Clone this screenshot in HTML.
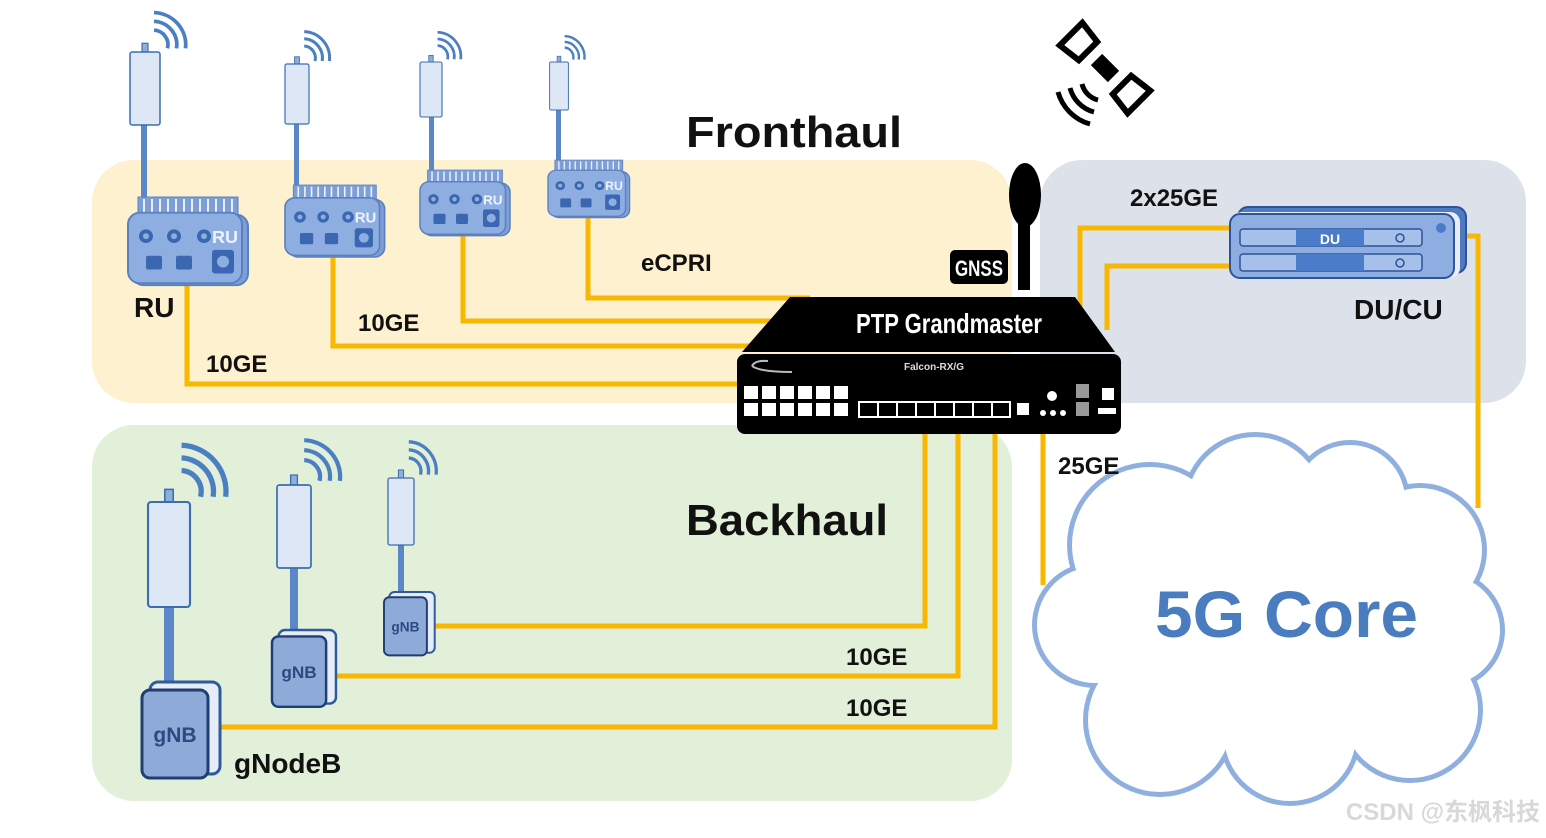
<!DOCTYPE html>
<html><head><meta charset="utf-8"><style>
html,body{margin:0;padding:0;background:#fff;}
svg{display:block;}
text{font-family:"Liberation Sans",sans-serif;font-weight:bold;}
</style></head><body>
<svg width="1546" height="838" viewBox="0 0 1546 838" xmlns="http://www.w3.org/2000/svg">
<defs>
  <g id="ant">
    <rect x="-4" y="-12" width="8" height="14" fill="#8eaedb" stroke="#3b6db0" stroke-width="1.5"/>
    <rect x="-20" y="0" width="40" height="100" rx="3" fill="#dde7f5" stroke="#3b6db0" stroke-width="2"/>
    <g fill="none" stroke="#4a7fc1" stroke-width="5">
      <path d="M12 -30 A20 20 0 0 1 30 -5"/>
      <path d="M12 -42 A32 32 0 0 1 42 -5"/>
      <path d="M12 -54 A44 44 0 0 1 54 -5"/>
    </g>
  </g>
  <g id="ru">
    <rect x="10" y="0" width="100" height="20" fill="#7d9fd6" stroke="#5a80c0" stroke-width="1"/>
    <g stroke="#eaf0fa" stroke-width="2">
      <path d="M16 2V18M24 2V18M32 2V18M40 2V18M48 2V18M56 2V18M64 2V18M72 2V18M80 2V18M88 2V18M96 2V18M104 2V18"/>
    </g>
    <rect x="4" y="18" width="116" height="72" rx="12" fill="#7d9fd6" stroke="#5a80c0" stroke-width="2"/>
    <rect x="0" y="16" width="114" height="72" rx="12" fill="#8eaee2" stroke="#5a80c0" stroke-width="2"/>
    <g fill="#3a67b0"><circle cx="18" cy="40" r="7"/><circle cx="46" cy="40" r="7"/><circle cx="76" cy="40" r="7"/>
    <rect x="18" y="60" width="16" height="14" rx="2"/><rect x="48" y="60" width="16" height="14" rx="2"/><rect x="84" y="54" width="22" height="24" rx="3"/></g>
    <g fill="#8eaee2"><circle cx="18" cy="40" r="3"/><circle cx="46" cy="40" r="3"/><circle cx="76" cy="40" r="3"/><circle cx="95" cy="66" r="6"/></g>
    <text x="84" y="47" font-size="18" fill="#eef3fb">RU</text>
  </g>
  <g id="gnb">
    <rect x="8" y="0" width="70" height="92" rx="8" fill="#e6edf8" stroke="#2f5a9c" stroke-width="3"/>
    <rect x="0" y="8" width="66" height="88" rx="8" fill="#8eaad8" stroke="#1f3f73" stroke-width="3"/>
    <text x="33" y="60" font-size="21" fill="#2a4a80" text-anchor="middle" font-weight="normal">gNB</text>
  </g>
</defs>

<rect x="92" y="160" width="920" height="243" rx="42" fill="#fef1cf"/>
<rect x="1040" y="160" width="486" height="243" rx="42" fill="#dde1ea"/>
<rect x="92" y="425" width="920" height="376" rx="42" fill="#e2efd9"/>

<g fill="none" stroke="#f8b700" stroke-width="5">
  <path d="M187 285V384H760"/>
  <path d="M333 255V346H770"/>
  <path d="M463 232V321H790"/>
  <path d="M588 215V298H810"/>
  <path d="M925 430V626H432"/>
  <path d="M958 430V676H335"/>
  <path d="M995 430V727H220"/>
  <path d="M1043 430V585"/>
  <path d="M1080 310V228H1235"/>
  <path d="M1107 330V266H1235"/>
  <path d="M1462 236H1478V508"/>
</g>

<rect x="141" y="120" width="6" height="80" fill="#5b86c8"/>
<use href="#ant" transform="translate(145,52) scale(0.75,0.73)"/>
<rect x="294" y="120" width="5" height="68" fill="#5b86c8"/>
<use href="#ant" transform="translate(297,64) scale(0.6,0.6)"/>
<rect x="429" y="115" width="5" height="58" fill="#5b86c8"/>
<use href="#ant" transform="translate(431,62) scale(0.55,0.55)"/>
<rect x="556" y="105" width="5" height="55" fill="#5b86c8"/>
<use href="#ant" transform="translate(559,62) scale(0.47,0.48)"/>

<use href="#ru" transform="translate(128,197) scale(1.0,0.98)"/>
<use href="#ru" transform="translate(285,185) scale(0.83,0.8)"/>
<use href="#ru" transform="translate(420,170) scale(0.75,0.73)"/>
<use href="#ru" transform="translate(548,160) scale(0.68,0.64)"/>

<rect x="164" y="600" width="10" height="90" fill="#5b86c8"/>
<use href="#ant" transform="translate(169,502) scale(1.05,1.05)"/>
<rect x="290" y="565" width="8" height="70" fill="#5b86c8"/>
<use href="#ant" transform="translate(294,485) scale(0.85,0.83)"/>
<rect x="398" y="540" width="6" height="55" fill="#5b86c8"/>
<use href="#ant" transform="translate(401,478) scale(0.65,0.67)"/>

<use href="#gnb" transform="translate(142,682) scale(1.0,1.0)"/>
<use href="#gnb" transform="translate(272,630) scale(0.82,0.8)"/>
<use href="#gnb" transform="translate(384,592) scale(0.65,0.66)"/>

<g transform="translate(1105,68) rotate(-45)" fill="none" stroke="#000" stroke-width="6">
  <rect x="-8" y="-12" width="16" height="24" fill="#000" stroke="none"/>
  <path d="M-16 -48 L16 -48 L13 -24 L-13 -24 Z"/>
  <path d="M-16 48 L16 48 L13 24 L-13 24 Z"/>
</g>
<g fill="none" stroke="#000" stroke-width="5">
  <path d="M1082 84 A22 22 0 0 0 1098 100"/>
  <path d="M1070 88 A34 34 0 0 0 1094 112"/>
  <path d="M1058 92 A46 46 0 0 0 1090 124"/>
</g>

<ellipse cx="1025" cy="195" rx="16" ry="32" fill="#000"/>
<rect x="1018" y="215" width="12" height="75" fill="#000"/>
<rect x="950" y="250" width="58" height="34" rx="5" fill="#000"/>
<text x="955" y="276" font-size="22" fill="#fff" textLength="48" lengthAdjust="spacingAndGlyphs">GNSS</text>

<path d="M790 297 L1075 297 L1115 352 L742 352 Z" fill="#000"/>
<text x="856" y="333" font-size="28" fill="#fff" textLength="186" lengthAdjust="spacingAndGlyphs">PTP Grandmaster</text>
<rect x="737" y="354" width="384" height="80" rx="8" fill="#000"/>
<text x="934" y="370" font-size="10" fill="#ddd" text-anchor="middle" font-family="Liberation Serif, serif">Falcon-RX/G</text>
<path d="M752 366 Q755 360 768 361 M752 366 Q760 372 792 372" stroke="#bbb" stroke-width="2" fill="none"/>
<g fill="#fff">
  <rect x="744" y="386" width="14" height="13"/><rect x="762" y="386" width="14" height="13"/><rect x="780" y="386" width="14" height="13"/><rect x="798" y="386" width="14" height="13"/><rect x="816" y="386" width="14" height="13"/><rect x="834" y="386" width="14" height="13"/>
  <rect x="744" y="403" width="14" height="13"/><rect x="762" y="403" width="14" height="13"/><rect x="780" y="403" width="14" height="13"/><rect x="798" y="403" width="14" height="13"/><rect x="816" y="403" width="14" height="13"/><rect x="834" y="403" width="14" height="13"/>
  <rect x="1017" y="403" width="12" height="12"/>
  <circle cx="1052" cy="396" r="5"/><circle cx="1043" cy="413" r="3"/><circle cx="1053" cy="413" r="3"/><circle cx="1063" cy="413" r="3"/>
  <rect x="1102" y="388" width="12" height="12"/><rect x="1098" y="408" width="18" height="6"/>
</g>
<g fill="#999"><rect x="1076" y="384" width="13" height="14"/><rect x="1076" y="402" width="13" height="14"/></g>
<rect x="859" y="402" width="151" height="15" fill="none" stroke="#fff" stroke-width="2"/>
<path d="M878 402V417M897 402V417M916 402V417M935 402V417M954 402V417M973 402V417M992 402V417" stroke="#fff" stroke-width="2"/>

<rect x="1238" y="207" width="228" height="66" rx="10" fill="#4f79c0" stroke="#2d539a" stroke-width="2"/>
<rect x="1232" y="212" width="228" height="66" rx="10" fill="#e8eef8"/>
<rect x="1230" y="214" width="224" height="64" rx="10" fill="#8eaee2" stroke="#2d539a" stroke-width="2"/>
<rect x="1240" y="229" width="182" height="17" rx="3" fill="#a7c0ea" stroke="#2d539a" stroke-width="1.5"/>
<rect x="1296" y="229" width="68" height="17" fill="#4a7cc9"/>
<rect x="1240" y="254" width="182" height="17" rx="3" fill="#a7c0ea" stroke="#2d539a" stroke-width="1.5"/>
<rect x="1296" y="254" width="68" height="17" fill="#4a7cc9"/>
<circle cx="1400" cy="238" r="4" fill="none" stroke="#2d539a" stroke-width="1.5"/>
<circle cx="1400" cy="263" r="4" fill="none" stroke="#2d539a" stroke-width="1.5"/>
<circle cx="1441" cy="228" r="5" fill="#4a7cc9"/>
<text x="1330" y="244" font-size="14" fill="#fff" text-anchor="middle">DU</text>

<g fill="#8fb0de">
  <circle cx="1150" cy="545" r="83"/><circle cx="1255" cy="505" r="73"/><circle cx="1350" cy="500" r="60"/><circle cx="1420" cy="550" r="67"/>
  <circle cx="1445" cy="630" r="60"/><circle cx="1410" cy="710" r="73"/><circle cx="1290" cy="735" r="71"/><circle cx="1160" cy="720" r="77"/>
  <circle cx="1095" cy="625" r="63"/><circle cx="1270" cy="620" r="125"/>
</g>
<g fill="#fff">
  <circle cx="1150" cy="545" r="78"/><circle cx="1255" cy="505" r="68"/><circle cx="1350" cy="500" r="55"/><circle cx="1420" cy="550" r="62"/>
  <circle cx="1445" cy="630" r="55"/><circle cx="1410" cy="710" r="68"/><circle cx="1290" cy="735" r="66"/><circle cx="1160" cy="720" r="72"/>
  <circle cx="1095" cy="625" r="58"/><circle cx="1270" cy="620" r="120"/>
  <circle cx="1150" cy="640" r="25"/><circle cx="1390" cy="640" r="25"/><circle cx="1360" cy="545" r="25"/>
</g>
<text x="1155" y="637" font-size="66" fill="#4a7cc0" textLength="263" lengthAdjust="spacingAndGlyphs">5G Core</text>

<text x="686" y="147" font-size="44" fill="#111" textLength="216" lengthAdjust="spacingAndGlyphs">Fronthaul</text>
<text x="686" y="535" font-size="44" fill="#111" textLength="202" lengthAdjust="spacingAndGlyphs">Backhaul</text>
<text x="134" y="317" font-size="28" fill="#111">RU</text>
<text x="358" y="331" font-size="24" fill="#111">10GE</text>
<text x="206" y="372" font-size="24" fill="#111">10GE</text>
<text x="641" y="271" font-size="24" fill="#111">eCPRI</text>
<text x="1130" y="206" font-size="24" fill="#111">2x25GE</text>
<text x="1354" y="319" font-size="28" fill="#111">DU/CU</text>
<text x="1058" y="474" font-size="24" fill="#111">25GE</text>
<text x="846" y="665" font-size="24" fill="#111">10GE</text>
<text x="846" y="716" font-size="24" fill="#111">10GE</text>
<text x="234" y="773" font-size="28" fill="#111">gNodeB</text>
<text x="1540" y="820" font-size="24" fill="#d8d8d8" text-anchor="end" font-weight="normal" style="font-family:'Liberation Sans','Noto Sans CJK SC',sans-serif">CSDN @东枫科技</text>
</svg>
</body></html>
